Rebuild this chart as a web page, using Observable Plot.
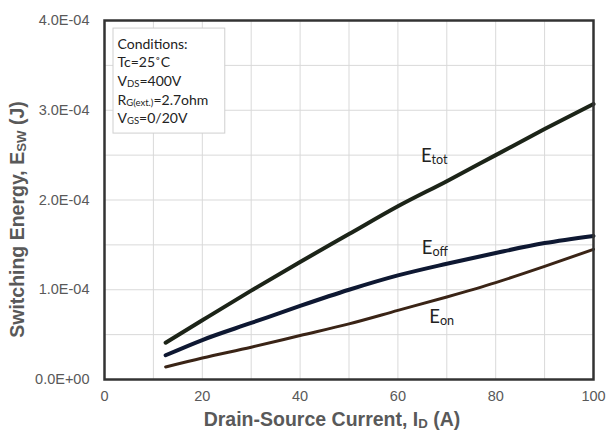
<!DOCTYPE html>
<html><head><meta charset="utf-8">
<script src="https://cdn.jsdelivr.net/npm/d3@7"></script>
<script src="https://cdn.jsdelivr.net/npm/@observablehq/plot@0.6"></script>
<style>body{margin:0;background:#fff;}</style>
</head><body><div id="chart"></div>
<script>
// ---- data ----
const current = [12.5, 20, 30, 40, 50, 60, 70, 80, 90, 100];
const eTot = [0.41e-4, 0.66e-4, 0.99e-4, 1.31e-4, 1.62e-4, 1.93e-4, 2.21e-4, 2.50e-4, 2.79e-4, 3.07e-4];
const eOff = [0.27e-4, 0.44e-4, 0.63e-4, 0.82e-4, 1.00e-4, 1.16e-4, 1.29e-4, 1.41e-4, 1.52e-4, 1.60e-4];
const eOn  = [0.14e-4, 0.24e-4, 0.36e-4, 0.49e-4, 0.62e-4, 0.77e-4, 0.92e-4, 1.08e-4, 1.26e-4, 1.45e-4];
const seriesNames = ["E_{tot}", "E_{off}", "E_{on}"];
const xTicks = [0, 20, 40, 60, 80, 100];
const yTicks = [0, 1e-4, 2e-4, 3e-4, 4e-4];
const xGrid = [10, 20, 30, 40, 50, 60, 70, 80, 90];
const yGrid = [0.5e-4, 1e-4, 1.5e-4, 2e-4, 2.5e-4, 3e-4, 3.5e-4];
const conditions = ["Conditions:", "Tc=25˚C", "V_{DS}=400V", "R_{G(ext.)}=2.7ohm", "V_{GS}=0/20V"];
const xTitle = "Drain-Source Current, I_{D} (A)";
const yTitle = "Switching Energy, E_{SW} (J)";

// ---- annotation placement (data coords) ----
const labelX = [64.7, 64.9, 66.4];
const labelY = [2.49e-4, 1.46e-4, 0.70e-4];
const colors = ["#1c2418", "#0e1832", "#3a2416"];
const widths = [4, 4, 3];

const rows = [];
[eTot, eOff, eOn].forEach((arr, s) => arr.forEach((v, i) => rows.push({s, x: current[i], y: v})));
const labels = seriesNames.map((n, i) => ({n, x: labelX[i], y: labelY[i]}));

const fmtE = d => {
  if (d === 0) return "0.0E+00";
  const e = Math.floor(Math.log10(Math.abs(d)) + 1e-9);
  const m = d / Math.pow(10, e);
  return m.toFixed(1) + "E" + (e < 0 ? "-" : "+") + String(Math.abs(e)).padStart(2, "0");
};

const plot = Plot.plot({
  width: 609, height: 438,
  marginLeft: 104, marginRight: 16, marginTop: 20, marginBottom: 59,
  style: {fontFamily: "Liberation Sans, Arial, sans-serif", background: "#fff"},
  x: {domain: [0, 100]},
  y: {domain: [0, 4e-4]},
  marks: [
    Plot.gridX(xGrid, {stroke: "#d9d9d9", strokeOpacity: 1, strokeWidth: 1}),
    Plot.gridY(yGrid, {stroke: "#d9d9d9", strokeOpacity: 1, strokeWidth: 1}),
    Plot.axisX(xTicks, {tickSize: 0, tickPadding: 11, fontSize: 14.5, fill: "#595959", label: null}),
    Plot.axisY(yTicks, {tickSize: 0, tickPadding: 15, fontSize: 14.5, fill: "#595959", tickFormat: fmtE, label: null}),
    Plot.rect([0], {x1: 1.84, x2: 24.7, y1: 2.74e-4, y2: 3.91e-4, fill: "#fff", stroke: "#cfcfcf", strokeWidth: 1}),
    Plot.text([conditions.join("\n")], {frameAnchor: "top-left", dx: 13, dy: 15, textAnchor: "start", lineAnchor: "top",
      fontSize: 14, lineHeight: 1.33, fill: "#222", fontFamily: "Lato, 'Open Sans', sans-serif"}),
    Plot.line(rows, {x: "x", y: "y", z: "s", stroke: d => colors[d.s], strokeWidth: d => widths[d.s], curve: "monotone-x"}),
    Plot.frame({stroke: "#333", strokeWidth: 2.5}),
    Plot.text(labels, {x: "x", y: "y", text: "n", textAnchor: "start", lineAnchor: "middle", fontSize: 18.5,
      fill: "#222", fontFamily: "Lato, 'Open Sans', sans-serif"}),
    Plot.text([xTitle], {frameAnchor: "bottom", dx: -17, dy: 46, fontSize: 19.5, fontWeight: "bold", fill: "#595959",
      textAnchor: "middle", lineAnchor: "bottom"}),
    Plot.text([yTitle], {frameAnchor: "left", dx: -87, dy: 19.5, rotate: -90, fontSize: 19.5, fontWeight: "bold", fill: "#595959",
      textAnchor: "middle", lineAnchor: "middle"})
  ]
});

// rich text: turn "_{...}" into subscript tspans
function parseRich(s) {
  const out = []; const re = /_\{([^}]*)\}/g; let last = 0, m;
  while ((m = re.exec(s))) { if (m.index > last) out.push({t: s.slice(last, m.index)}); out.push({t: m[1], sub: true}); last = re.lastIndex; }
  if (last < s.length) out.push({t: s.slice(last)});
  return out;
}
d3.select(plot).selectAll("text, tspan").each(function() {
  if (this.children.length) return;
  const s = this.textContent;
  if (!s.includes("_{")) return;
  this.textContent = "";
  const el = d3.select(this);
  parseRich(s).forEach(seg => {
    const t = el.append("tspan").text(seg.t);
    if (seg.sub) t.attr("font-size", "0.68em").attr("baseline-shift", "-0.12em");
  });
});
// letter spacing for the axis titles to match the wider reference lettering
d3.select(plot).selectAll("text").filter(function() { return this.getAttribute("font-weight") === "bold" || this.style.fontWeight === "bold"; })
  .attr("letter-spacing", "1.3px");
document.getElementById("chart").appendChild(plot);
</script>
</body></html>
